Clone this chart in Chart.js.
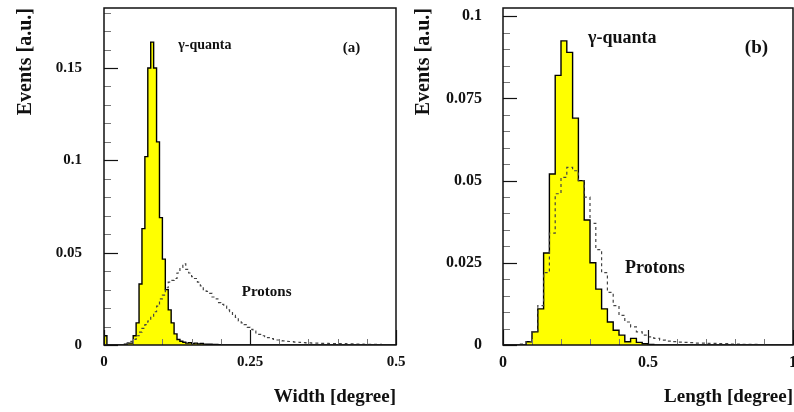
<!DOCTYPE html>
<html>
<head>
<meta charset="utf-8">
<script src="https://cdn.jsdelivr.net/npm/chart.js@4.4.0/dist/chart.umd.min.js"></script>
<style>
  html, body { margin:0; padding:0; background:#fff; width:794px; height:412px; overflow:hidden; }
  canvas { position:absolute; top:0; }
  #chartA { left:0; }
  #chartB { left:400px; }
</style>
</head>
<body>
<canvas id="chartA" width="440" height="412"></canvas>
<canvas id="chartB" width="400" height="412"></canvas>
<script>
// ==== panel (a): Width, 100 bins of 0.005 deg ====
const widthBin = 0.005;
const gammaWidth = [
  0.005, 0, 0, 0, 0, 0, 0, 0.0005, 0.001, 0.001,
  0.005, 0.012, 0.033, 0.063, 0.102, 0.150, 0.164, 0.150, 0.110, 0.069,
  0.0465, 0.030, 0.019, 0.012, 0.006, 0.003, 0.002, 0.0015, 0.001, 0.0012,
  0.0008, 0.001, 0.0006, 0.0008, 0.0005, 0.0004, 0.0004, 0.0003, 0.0003, 0.0002,
  0, 0, 0, 0, 0, 0, 0, 0, 0, 0,
  0, 0, 0, 0, 0, 0, 0, 0, 0, 0,
  0, 0, 0, 0, 0, 0, 0, 0, 0, 0,
  0, 0, 0, 0, 0, 0, 0, 0, 0, 0,
  0, 0, 0, 0, 0, 0, 0, 0, 0, 0,
  0, 0, 0, 0, 0, 0, 0, 0, 0, 0
];
const protonWidth = [
  0, 0, 0, 0, 0, 0, 0, 0, 0.001, 0.002,
  0.003, 0.005, 0.007, 0.009, 0.011, 0.013, 0.015, 0.018, 0.021, 0.025,
  0.027, 0.031, 0.034, 0.035, 0.036, 0.039, 0.042, 0.044, 0.041, 0.039,
  0.037, 0.036, 0.034, 0.032, 0.030, 0.029, 0.028, 0.026, 0.025, 0.023,
  0.022, 0.021, 0.019, 0.018, 0.016, 0.015, 0.013, 0.012, 0.011, 0.0095,
  0.0085, 0.0075, 0.0065, 0.0058, 0.005, 0.0045, 0.004, 0.0035, 0.003, 0.0027,
  0.0024, 0.0022, 0.002, 0.0019, 0.0018, 0.0016, 0.0015, 0.0014, 0.0013, 0.0012,
  0.0011, 0.001, 0.001, 0.001, 0.0009, 0.0009, 0.0009, 0.0008, 0.0008, 0.0008,
  0.0007, 0.0007, 0.0007, 0.0006, 0.0006, 0.0006, 0.0005, 0.0005, 0.0005, 0.0004,
  0.0004, 0.0004, 0.0003, 0.0003, 0.0003, 0.0002, 0.0002, 0.0002, 0.0002, 0.0001
];
const xTicksA = [0, 0.25, 0.5];
const xTickLabelsA = ["0", "0.25", "0.5"];
const xMinorA = [0.05, 0.1, 0.15, 0.2, 0.3, 0.35, 0.4, 0.45];
const yTicksA = [0, 0.05, 0.1, 0.15];
const yTickLabelsA = ["0", "0.05", "0.1", "0.15"];
const yMinorA = [0.01, 0.02, 0.03, 0.04, 0.06, 0.07, 0.08, 0.09, 0.11, 0.12, 0.13, 0.14, 0.16, 0.17, 0.18];

// ==== panel (b): Length, 50 bins of 0.02 deg ====
const lengthBin = 0.02;
const gammaLength = [
  0, 0, 0, 0, 0.001, 0.004, 0.011, 0.028, 0.052, 0.082,
  0.0925, 0.089, 0.069, 0.050, 0.038, 0.025, 0.017, 0.011, 0.007, 0.0045,
  0.003, 0.001, 0.002, 0.0008, 0.0004, 0.0002, 0, 0, 0, 0,
  0, 0, 0, 0, 0, 0, 0, 0, 0, 0,
  0, 0, 0, 0, 0, 0, 0, 0, 0, 0
];
const protonLength = [
  0, 0, 0, 0.0003, 0.001, 0.004, 0.012, 0.022, 0.034, 0.046,
  0.051, 0.054, 0.053, 0.050, 0.045, 0.037, 0.029, 0.022, 0.016, 0.012,
  0.009, 0.007, 0.0055, 0.004, 0.003, 0.0025, 0.002, 0.0015, 0.0012, 0.001,
  0.0009, 0.0008, 0.0007, 0.0006, 0.0006, 0.0005, 0.0005, 0.0004, 0.0004, 0.0003,
  0.0003, 0.0002, 0.0002, 0.0002, 0.0001, 0.0001, 0.0001, 0, 0, 0
];
const xTicksB = [0, 0.5, 1];
const xTickLabelsB = ["0", "0.5", "1"];
const xMinorB = [0.1, 0.2, 0.3, 0.4, 0.6, 0.7, 0.8, 0.9];
const yTicksB = [0, 0.025, 0.05, 0.075, 0.1];
const yTickLabelsB = ["0", "0.025", "0.05", "0.075", "0.1"];
const yMinorB = [0.005, 0.01, 0.015, 0.02, 0.03, 0.035, 0.04, 0.045, 0.055, 0.06, 0.065, 0.07, 0.08, 0.085, 0.09, 0.095];

const SERIF = '"Liberation Serif", "DejaVu Serif", serif';
Chart.defaults.font.family = SERIF;
Chart.defaults.color = '#000';

// histogram -> step points (left edge of every bin + closing edge)
function histPoints(values, bw) {
  const pts = [{ x: 0, y: 0 }];
  values.forEach((v, i) => pts.push({ x: i * bw, y: v }));
  pts.push({ x: values.length * bw, y: 0 });
  return pts;
}

// ROOT-like frame: box, inner ticks, in-frame labels
const rootFrame = {
  id: 'rootFrame',
  afterDatasetsDraw(chart, args, o) {
    const { ctx, chartArea: a, scales: { x, y } } = chart;
    ctx.save();
    const tickX = (v, len, col, w) => {
      const px = Math.round(x.getPixelForValue(v)) + 0.5;
      ctx.strokeStyle = col; ctx.lineWidth = w;
      ctx.beginPath(); ctx.moveTo(px, a.bottom); ctx.lineTo(px, a.bottom - len); ctx.stroke();
    };
    const tickY = (v, len, col, w) => {
      const py = Math.round(y.getPixelForValue(v)) + 0.5;
      ctx.strokeStyle = col; ctx.lineWidth = w;
      ctx.beginPath(); ctx.moveTo(a.left, py); ctx.lineTo(a.left + len, py); ctx.stroke();
    };
    o.xMinor.forEach(v => tickX(v, 6, '#777', 1));
    o.xMajor.forEach(v => tickX(v, 15, '#111', 1.2));
    o.yMinor.forEach(v => tickY(v, 7, '#777', 1));
    o.yMajor.forEach(v => tickY(v, 14, '#111', 1.2));
    ctx.strokeStyle = '#111';
    ctx.lineWidth = 1.5;
    ctx.strokeRect(a.left, a.top, a.right - a.left, a.bottom - a.top);
    ctx.fillStyle = '#111';
    ctx.textBaseline = 'middle';
    ctx.textAlign = 'left';
    o.labels.forEach(l => {
      ctx.font = `bold ${l.size}px ${SERIF}`;
      ctx.fillText(l.text, x.getPixelForValue(l.x), y.getPixelForValue(l.y));
    });
    ctx.restore();
  }
};

function makePanel(id, p) {
  return new Chart(document.getElementById(id), {
    type: 'line',
    data: {
      datasets: [
        {
          label: 'Protons', data: histPoints(p.proton, p.bw), order: 0,
          stepped: 'before', borderColor: '#444', borderWidth: 1.2, borderDash: [3, 3],
          pointRadius: 0, fill: false
        },
        {
          label: 'γ-quanta', data: histPoints(p.gamma, p.bw), order: 1,
          stepped: 'before', borderColor: '#000', borderWidth: 1.4,
          backgroundColor: '#ffff00', pointRadius: 0, fill: 'origin'
        }
      ]
    },
    options: {
      responsive: false, animation: false,
      layout: { padding: { left: 0, top: 8, right: p.padRight, bottom: 0 } },
      plugins: {
        legend: { display: false }, tooltip: { enabled: false },
        rootFrame: { xMajor: p.xTicks, xMinor: p.xMinor, yMajor: p.yTicks, yMinor: p.yMinor, labels: p.labels }
      },
      scales: {
        x: {
          type: 'linear', min: 0, max: p.xMax,
          afterBuildTicks: (s) => { s.ticks = p.xTicks.map(v => ({ value: v })); },
          afterFit: (s) => { s.height = 67; s.paddingLeft = 0; s.paddingRight = 0; },
          grid: { display: false, drawTicks: false }, border: { display: false },
          ticks: {
            padding: 10, maxRotation: 0, autoSkip: false, color: '#111',
            font: { size: p.tickSize, weight: 'bold', lineHeight: 1 },
            callback: (v) => p.xLabels[p.xTicks.indexOf(v)] ?? ''
          },
          title: {
            display: true, text: p.xTitle, align: 'end', color: '#111',
            font: { size: 19, weight: 'bold' }, padding: { top: 0, bottom: 4 }
          }
        },
        y: {
          min: 0, max: p.yMax,
          afterBuildTicks: (s) => { s.ticks = p.yTicks.map(v => ({ value: v })); },
          afterFit: (s) => { s.width = p.yWidth; s.paddingTop = 0; s.paddingBottom = 0; },
          grid: { display: false, drawTicks: false }, border: { display: false },
          ticks: {
            padding: p.yPad, color: '#111',
            font: { size: p.tickSize, weight: 'bold', lineHeight: 1 },
            callback: (v) => p.yLabels[p.yTicks.indexOf(v)] ?? ''
          },
          title: {
            display: true, text: 'Events [a.u.]', align: 'end', color: '#111',
            font: { size: 20, weight: 'bold' }, padding: { top: p.yTitlePad, bottom: 0 }
          }
        }
      }
    },
    plugins: [rootFrame]
  });
}

makePanel('chartA', {
  gamma: gammaWidth, proton: protonWidth, bw: widthBin,
  xMax: 0.5, yMax: 0.1825, padRight: 44, yWidth: 104, yPad: 22, yTitlePad: 14, tickSize: 15,
  xTicks: xTicksA, xLabels: xTickLabelsA, xMinor: xMinorA,
  yTicks: yTicksA, yLabels: yTickLabelsA, yMinor: yMinorA,
  xTitle: 'Width [degree]',
  labels: [
    { text: 'γ-quanta', x: 0.127, y: 0.1625, size: 14 },
    { text: '(a)', x: 0.409, y: 0.161, size: 15 },
    { text: 'Protons', x: 0.236, y: 0.0287, size: 15 }
  ]
});

makePanel('chartB', {
  gamma: gammaLength, proton: protonLength, bw: lengthBin,
  xMax: 1, yMax: 0.1025, padRight: 7, yWidth: 103, yPad: 21, yTitlePad: 12, tickSize: 16,
  xTicks: xTicksB, xLabels: xTickLabelsB, xMinor: xMinorB,
  yTicks: yTicksB, yLabels: yTickLabelsB, yMinor: yMinorB,
  xTitle: 'Length [degree]',
  labels: [
    { text: 'γ-quanta', x: 0.293, y: 0.0934, size: 18 },
    { text: '(b)', x: 0.834, y: 0.0903, size: 19 },
    { text: 'Protons', x: 0.421, y: 0.0234, size: 18 }
  ]
});
</script>
</body>
</html>
